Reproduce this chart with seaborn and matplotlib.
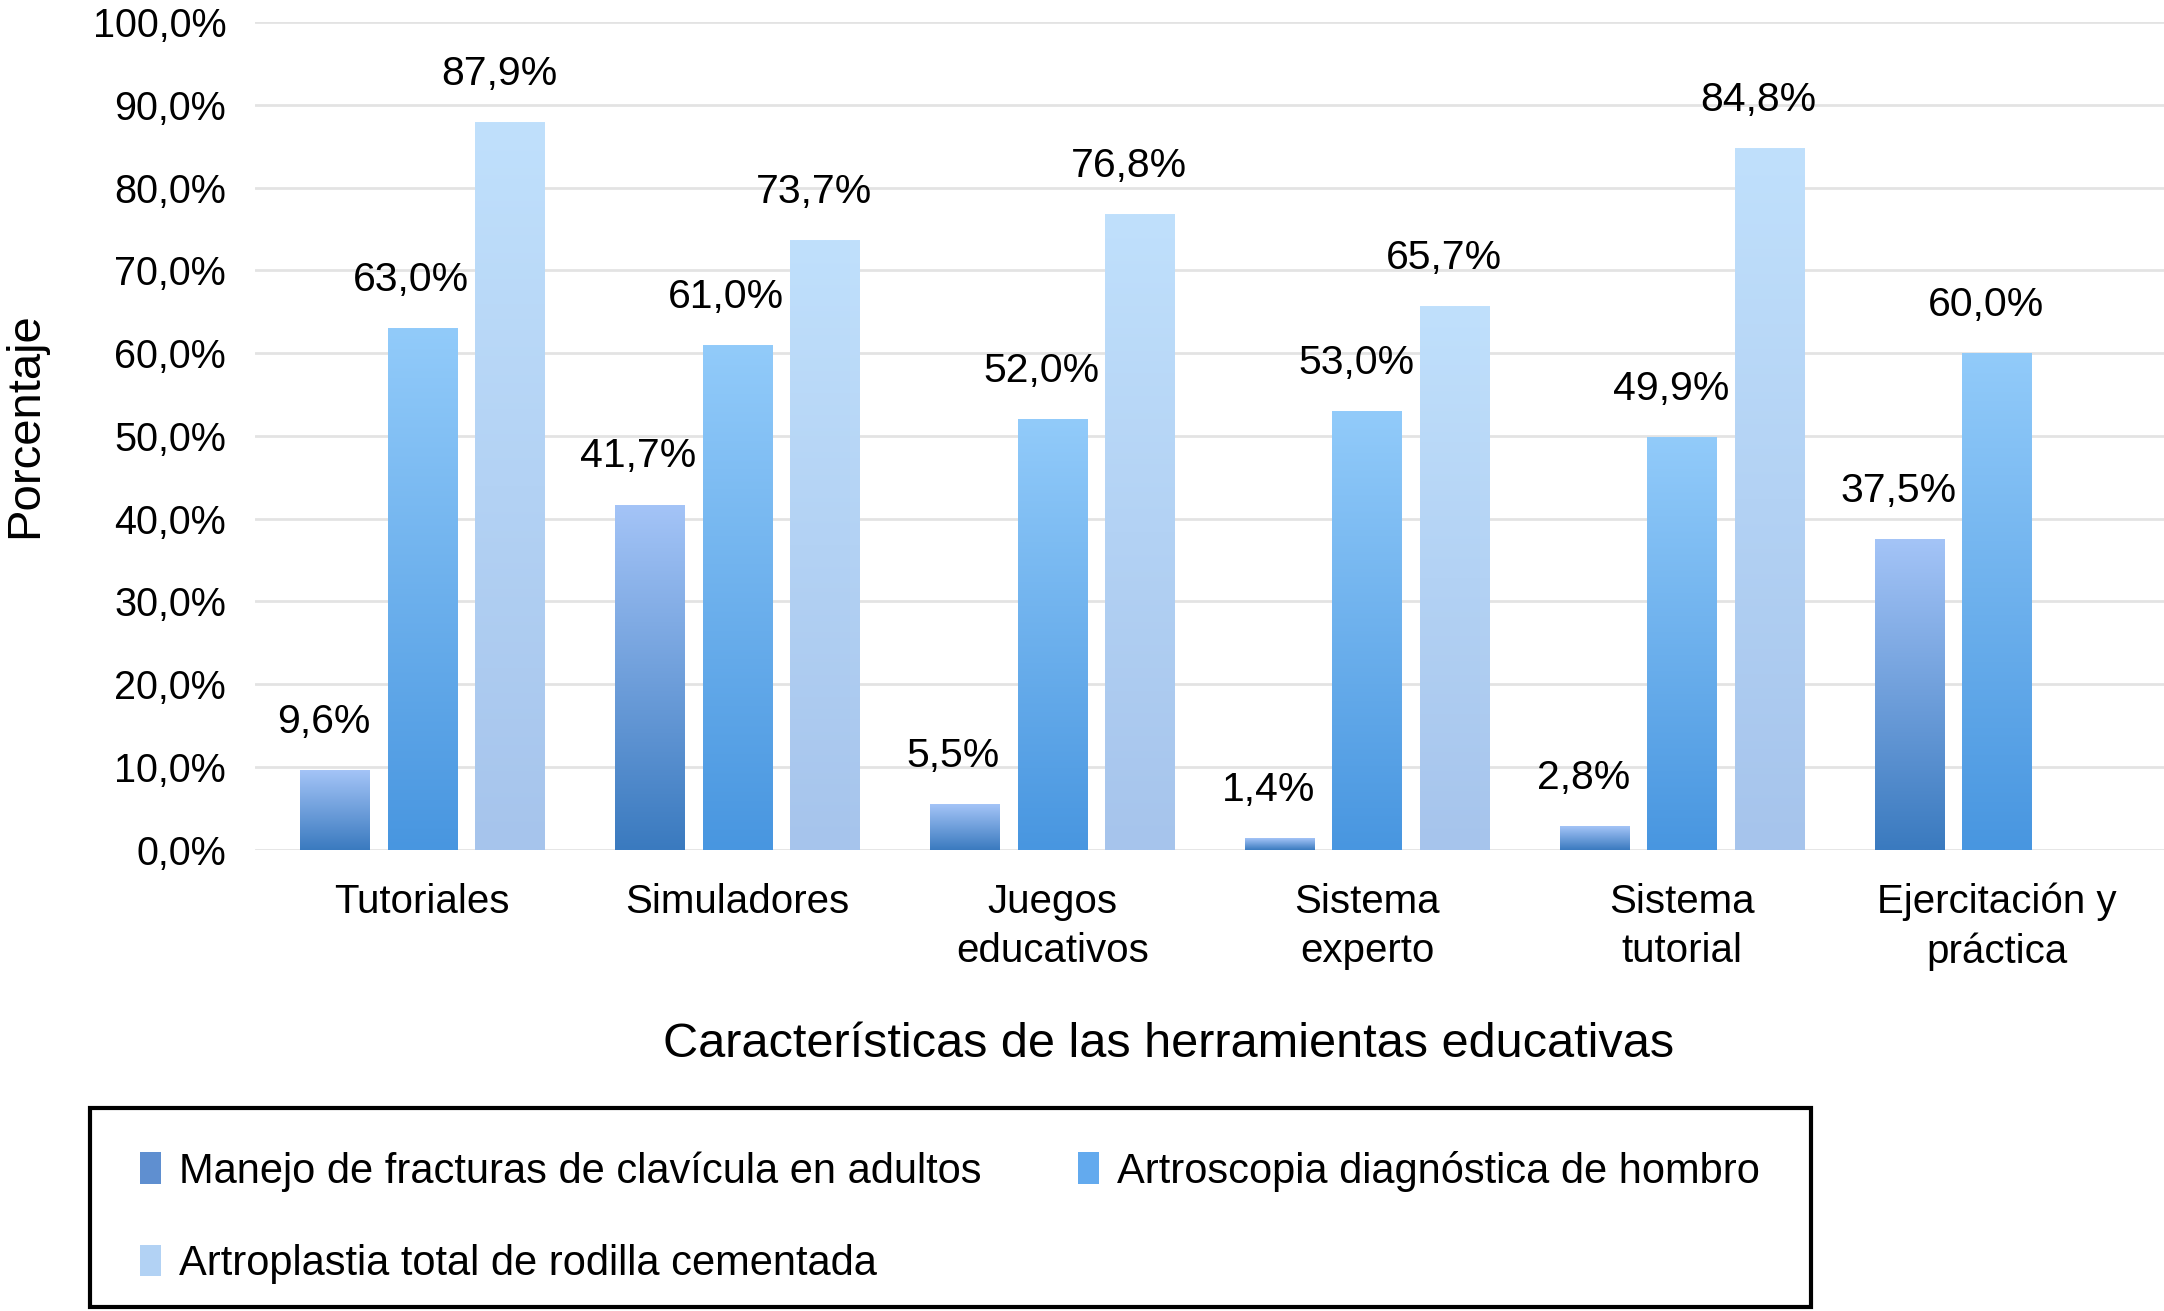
import numpy as np
import pandas as pd
import matplotlib
matplotlib.use("Agg")
import matplotlib.pyplot as plt
from matplotlib.colors import LinearSegmentedColormap
from matplotlib.patches import Rectangle
import seaborn as sns

categories = ["Tutoriales", "Simuladores", "Juegos\neducativos", "Sistema\nexperto",
              "Sistema\ntutorial", "Ejercitación y\npráctica"]
series_names = ["Manejo de fracturas de clavícula en adultos",
                "Artroscopia diagnóstica de hombro",
                "Artroplastia total de rodilla cementada"]
clavicula = [9.6, 41.7, 5.5, 1.4, 2.8, 37.5]
artroscopia = [63.0, 61.0, 52.0, 53.0, 49.9, 60.0]
artroplastia = [87.9, 73.7, 76.8, 65.7, 84.8, np.nan]
yticks = [0, 10, 20, 30, 40, 50, 60, 70, 80, 90, 100]

# gradient colours (bottom, top) per series
grad_colors = [("#3a7abf", "#a4c4f7"), ("#4896e0", "#92cbfa"), ("#a6c4ec", "#c0e0fc")]
mid_colors = ["#5f8fd0", "#63aaee", "#b2d2f4"]

rows = []
for name, vals in zip(series_names, [clavicula, artroscopia, artroplastia]):
    for c, v in zip(categories, vals):
        rows.append({"cat": c, "serie": name, "val": v})
df = pd.DataFrame(rows)

sns.set_theme(style="white")
plt.rcParams["font.family"] = ["Liberation Sans", "DejaVu Sans"]
plt.rcParams["text.color"] = "black"
plt.rcParams["xtick.color"] = "black"
plt.rcParams["ytick.color"] = "black"

fig = plt.figure(figsize=(21.64, 13.11), dpi=100)
ax = fig.add_axes([0.118, 0.352, 0.882, 0.631])

sns.barplot(data=df, x="cat", y="val", hue="serie", order=categories,
            hue_order=series_names, palette=mid_colors, width=0.836, gap=0.21,
            ax=ax, legend=False, linewidth=0, errorbar=None)

ax.set_xlim(-0.53, 5.53)
ax.set_ylim(0, 100)
ax.set_yticks(yticks)
ax.set_yticklabels([f"{t:.1f}".replace(".", ",") + "%" for t in yticks], fontsize=28.5)
ax.tick_params(axis="y", length=0, pad=21, labelcolor="black")
ax.tick_params(axis="x", length=0, pad=24, labelsize=29, labelcolor="black")
for lbl in ax.get_xticklabels():
    lbl.set_linespacing(1.38)
ax.yaxis.grid(True, color="#e3e3e3", linewidth=2)
ax.set_axisbelow(True)
for s in ax.spines.values():
    s.set_visible(False)
ax.set_xlabel("")
ax.set_ylabel("")

# gradient fills + value labels
for i, cont in enumerate(ax.containers):
    cmap = LinearSegmentedColormap.from_list(f"g{i}", list(grad_colors[i]))
    grad = np.linspace(0, 1, 256).reshape(-1, 1)
    for bar in cont:
        h = bar.get_height()
        if not np.isfinite(h) or h <= 0:
            continue
        x0 = bar.get_x()
        w = bar.get_width()
        im = ax.imshow(grad, extent=[x0, x0 + w, 0, h], origin="lower",
                       aspect="auto", cmap=cmap, zorder=bar.get_zorder() + 0.1)
        im.set_clip_path(bar)
        ax.annotate(f"{h:.1f}".replace(".", ",") + "%", (x0 + w / 2, h),
                    xytext=(-8, 21), textcoords="offset points",
                    ha="center", va="bottom", fontsize=29.5, color="black")

ax.set_xlim(-0.53, 5.53)
ax.set_ylim(0, 100)

fig.text(0.0115, 0.676, "Porcentaje", rotation=90, ha="center", va="center",
         fontsize=34, color="black")
fig.text(0.54, 0.203, "Características de las herramientas educativas",
         ha="center", va="center", fontsize=35, color="black")

# legend
fig.patches.append(Rectangle((0.0415, 0.003), 0.7955, 0.152, transform=fig.transFigure,
                             fill=False, edgecolor="black", linewidth=3))
handles = [Rectangle((0, 0), 1, 1, facecolor=c, edgecolor="none") for c in mid_colors]
order = [0, 2, 1]
fig.legend([handles[k] for k in order], [series_names[k] for k in order],
           loc="upper left", bbox_to_anchor=(0.055, 0.138),
           ncol=2, frameon=False, fontsize=30, handlelength=0.5, handleheight=0.8,
           handletextpad=0.45, columnspacing=2.3, labelspacing=1.25, borderpad=0)

fig.savefig("out.png", dpi=100)
